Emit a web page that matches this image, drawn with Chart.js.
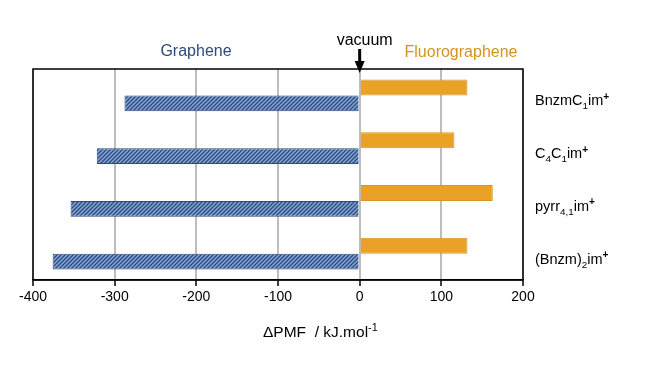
<!DOCTYPE html>
<html>
<head>
<meta charset="utf-8">
<script src="https://cdn.jsdelivr.net/npm/chart.js@4.4.0/dist/chart.umd.min.js"></script>
<style>
  html, body { margin: 0; padding: 0; background: #fff; }
  #wrap { width: 652px; height: 367px; position: relative; }
</style>
</head>
<body>
<div id="wrap"><canvas id="pmfChart"></canvas></div>
<script>
// --- Data ---
const categories = ['BnzmC_{1}im^{+}', 'C_{4}C_{1}im^{+}', 'pyrr_{4,1}im^{+}', '(Bnzm)_{2}im^{+}'];
const fluorographeneValues = [132, 116, 163, 132];
const grapheneValues = [-288, -322, -354, -376];
const xMin = -400, xMax = 200, xStep = 100;

const FONT = '"Liberation Sans", Arial, Helvetica, sans-serif';

// --- Hatched fill for the graphene bars ---
function makeHatch() {
    const c = document.createElement('canvas');
    c.width = 4; c.height = 4;
    const g = c.getContext('2d');
    g.fillStyle = '#86a5d6';
    g.fillRect(0, 0, 4, 4);
    g.strokeStyle = '#2b4c7e';
    g.lineWidth = 1.3;
    g.beginPath();
    g.moveTo(0, 4); g.lineTo(4, 0);
    g.moveTo(-1, 1); g.lineTo(1, -1);
    g.moveTo(3, 5); g.lineTo(5, 3);
    g.stroke();
    return g.createPattern(c, 'repeat');
}

// Split "C_{4}im^{+}" into normal / sub / sup runs
function parseRich(str) {
    const parts = [];
    const re = /([_^])\{([^}]*)\}|([^_^]+)/g;
    let m;
    while ((m = re.exec(str))) {
        if (m[3]) parts.push({ t: m[3], k: 'n' });
        else parts.push({ t: m[2], k: m[1] === '_' ? 'sub' : 'sup' });
    }
    return parts;
}

function drawRich(ctx, str, x, y, size, boldSup) {
    ctx.textAlign = 'left';
    ctx.textBaseline = 'alphabetic';
    parseRich(str).forEach(p => {
        let fs = size, dy = 0, weight = '';
        if (p.k === 'sub') { fs = size * 0.68; dy = size * 0.28; }
        if (p.k === 'sup') { fs = size * 0.7; dy = -size * 0.38; if (boldSup) weight = 'bold '; }
        ctx.font = weight + fs + 'px ' + FONT;
        ctx.fillText(p.t, x, y + dy);
        x += ctx.measureText(p.t).width;
    });
}

// --- Plugin: frame, labels, arrow, axis title ---
const decorations = {
    id: 'decorations',
    afterDatasetsDraw(chart) {
        const ctx = chart.ctx;
        const area = chart.chartArea;
        const xs = chart.scales.x, ys = chart.scales.y;
        ctx.save();

        // Plot frame
        ctx.strokeStyle = '#000';
        ctx.lineWidth = 1.5;
        ctx.strokeRect(area.left, area.top, area.right - area.left, area.bottom - area.top);

        // Category labels on the right
        ctx.fillStyle = '#000';
        categories.forEach((cat, i) => {
            const yc = ys.getPixelForValue(i);
            drawRich(ctx, cat, 535, yc + 10, 14.5, true);
        });

        // Series headings
        ctx.textAlign = 'center';
        ctx.textBaseline = 'alphabetic';
        ctx.font = '16px ' + FONT;
        ctx.fillStyle = '#2e4a7a';
        ctx.fillText('Graphene', 196, 56);
        ctx.fillStyle = '#d4921f';
        ctx.fillText('Fluorographene', 461, 57);

        // vacuum arrow at zero
        const x0 = xs.getPixelForValue(0);
        ctx.fillStyle = '#000';
        ctx.fillText('vacuum', x0 + 5, 45);
        ctx.strokeStyle = '#000';
        ctx.lineWidth = 3;
        ctx.beginPath();
        ctx.moveTo(x0, 49);
        ctx.lineTo(x0, 63);
        ctx.stroke();
        ctx.beginPath();
        ctx.moveTo(x0 - 5, 61);
        ctx.lineTo(x0 + 5, 61);
        ctx.lineTo(x0, area.top + 4);
        ctx.closePath();
        ctx.fill();

        // Axis title
        drawRich(ctx, '\u0394PMF  / kJ.mol^{-1}', 263, 337, 15.5, false);

        ctx.restore();
    }
};

const ctx = document.getElementById('pmfChart');
new Chart(ctx, {
    type: 'bar',
    data: {
        labels: categories,
        datasets: [
            {
                label: 'Fluorographene',
                data: fluorographeneValues,
                backgroundColor: '#e9a226',
                borderColor: '#d89328',
                borderWidth: 1
            },
            {
                label: 'Graphene',
                data: grapheneValues,
                backgroundColor: makeHatch(),
                borderColor: '#2b4a78',
                borderWidth: 1
            }
        ]
    },
    options: {
        indexAxis: 'y',
        responsive: true,
        maintainAspectRatio: false,
        animation: false,
        categoryPercentage: 0.6,
        barPercentage: 1.0,
        layout: { padding: { top: 69, right: 129, left: 33, bottom: 0 } },
        plugins: {
            legend: { display: false },
            tooltip: { enabled: false }
        },
        scales: {
            x: {
                min: xMin,
                max: xMax,
                ticks: {
                    stepSize: xStep,
                    color: '#000',
                    padding: 3,
                    font: { family: FONT, size: 14 }
                },
                grid: {
                    color: '#bdbdbd',
                    lineWidth: 2,
                    tickColor: '#000',
                    tickLength: 6,
                    tickWidth: 1.5
                },
                border: { color: '#000', width: 1.5 },
                afterFit(scale) { scale.height = 87; }
            },
            y: {
                display: false
            }
        }
    },
    plugins: [decorations]
});
</script>
</body>
</html>
